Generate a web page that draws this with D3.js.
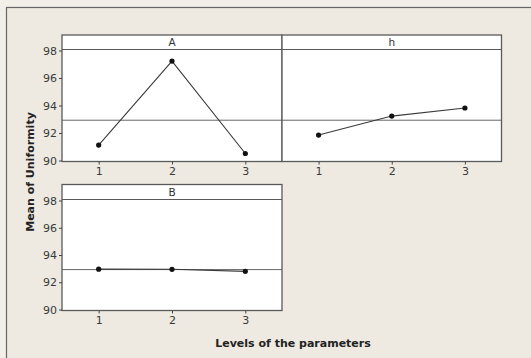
<!DOCTYPE html>
<html>
<head>
<meta charset="utf-8">
<script src="https://cdn.jsdelivr.net/npm/d3@7"></script>
<style>
  html, body { margin: 0; padding: 0; background: #f1eee7; }
  svg { display: block; }
</style>
</head>
<body>
<svg id="chart" width="531" height="358"></svg>
<script>
// Main effects plot for uniformity: mean response at each level of three factors
const levels = [1, 2, 3];
const factorNames = ["A", "h", "B"];
const meansA = [91.12, 97.23, 90.51];
const meansH = [91.85, 93.23, 93.82];
const meansB = [92.96, 92.95, 92.80];
const grandMean = 92.93;
const yTicks = [90, 92, 94, 96, 98];
const yTitle = "Mean of Uniformity";
const xTitle = "Levels of the parameters";

const series = [meansA, meansH, meansB];

const svg = d3.select("#chart");
const W = 531, H = 358;
const frameColor = "#5a5a5a";
const inkColor = "#3a3a3a";
const fontFamily = "Tahoma, 'DejaVu Sans', 'Liberation Sans', Arial, sans-serif";

// outer graph region
svg.append("rect").attr("x", 0).attr("y", 0).attr("width", W).attr("height", H).attr("fill", "#f2efe9");
svg.append("rect").attr("x", 6.5).attr("y", 7.5).attr("width", W + 10).attr("height", H + 10)
  .attr("fill", "#eeeae1").attr("stroke", "#666").attr("stroke-width", 1.2);

// panel geometry in pixels; y(90) and y(98) anchor each panel's value scale
const panels = [
  { x0: 62, x1: 282, stripTop: 35, plotTop: 49.5, plotBottom: 161.5, yLo: 160.5, yHi: 50.5, showY: true },
  { x0: 282, x1: 501.5, stripTop: 35, plotTop: 49.5, plotBottom: 161.5, yLo: 160.5, yHi: 50.5, showY: false },
  { x0: 62, x1: 282, stripTop: 184.5, plotTop: 199.5, plotBottom: 310.5, yLo: 309.5, yHi: 200.5, showY: true }
];

panels.forEach((p, i) => {
  const x = d3.scaleLinear().domain([0.5, 3.5]).range([p.x0, p.x1]);
  const y = d3.scaleLinear().domain([90, 98]).range([p.yLo, p.yHi]);
  const g = svg.append("g");

  // white panel + strip
  g.append("rect").attr("x", p.x0).attr("y", p.stripTop)
    .attr("width", p.x1 - p.x0).attr("height", p.plotBottom - p.stripTop)
    .attr("fill", "#fff");

  // grand mean reference line
  g.append("line")
    .attr("x1", p.x0).attr("x2", p.x1)
    .attr("y1", y(grandMean)).attr("y2", y(grandMean))
    .attr("stroke", "#666").attr("stroke-width", 1);

  // strip separator
  g.append("line").attr("x1", p.x0).attr("x2", p.x1)
    .attr("y1", p.plotTop).attr("y2", p.plotTop)
    .attr("stroke", frameColor).attr("stroke-width", 1.2);

  // strip label
  g.append("text").attr("x", (p.x0 + p.x1) / 2).attr("y", p.stripTop + 11)
    .attr("text-anchor", "middle").attr("font-family", fontFamily)
    .attr("font-size", 10.5).attr("fill", "#333").text(factorNames[i]);

  // mean line and points
  const pts = levels.map((lv, k) => [lv, series[i][k]]);
  g.append("path").datum(pts)
    .attr("d", d3.line().x(d => x(d[0])).y(d => y(d[1])))
    .attr("fill", "none").attr("stroke", "#3a3a3a").attr("stroke-width", 1.1);
  g.selectAll("circle.pt").data(pts).join("circle")
    .attr("class", "pt")
    .attr("cx", d => x(d[0])).attr("cy", d => y(d[1])).attr("r", 2.6)
    .attr("fill", "#111");

  // frame
  g.append("rect").attr("x", p.x0).attr("y", p.stripTop)
    .attr("width", p.x1 - p.x0).attr("height", p.plotBottom - p.stripTop)
    .attr("fill", "none").attr("stroke", frameColor).attr("stroke-width", 1.3);

  // x axis
  const xAxis = d3.axisBottom(x).tickValues(levels).tickFormat(d3.format("d"))
    .tickSizeOuter(0).tickSizeInner(3).tickPadding(3);
  const gx = svg.append("g").attr("transform", `translate(0,${p.plotBottom})`).call(xAxis);
  gx.select(".domain").remove();
  gx.selectAll("line").attr("stroke", "#444");
  gx.selectAll("text").attr("font-family", fontFamily).attr("font-size", 11).attr("fill", inkColor);

  // y axis
  if (p.showY) {
    const yAxis = d3.axisLeft(y).tickValues(yTicks)
      .tickSizeOuter(0).tickSizeInner(3).tickPadding(2);
    const gy = svg.append("g").attr("transform", `translate(${p.x0},0)`).call(yAxis);
    gy.select(".domain").remove();
    gy.selectAll("line").attr("stroke", "#444");
    gy.selectAll("text").attr("font-family", fontFamily).attr("font-size", 11).attr("fill", inkColor);
  }
});

// axis titles
svg.append("text")
  .attr("transform", "translate(34,172) rotate(-90)")
  .attr("text-anchor", "middle").attr("font-family", fontFamily)
  .attr("font-weight", "bold").attr("font-size", 11).attr("fill", "#222")
  .text(yTitle);

svg.append("text")
  .attr("x", 293).attr("y", 347)
  .attr("text-anchor", "middle").attr("font-family", fontFamily)
  .attr("font-weight", "bold").attr("font-size", 11).attr("fill", "#222")
  .text(xTitle);
</script>
</body>
</html>
